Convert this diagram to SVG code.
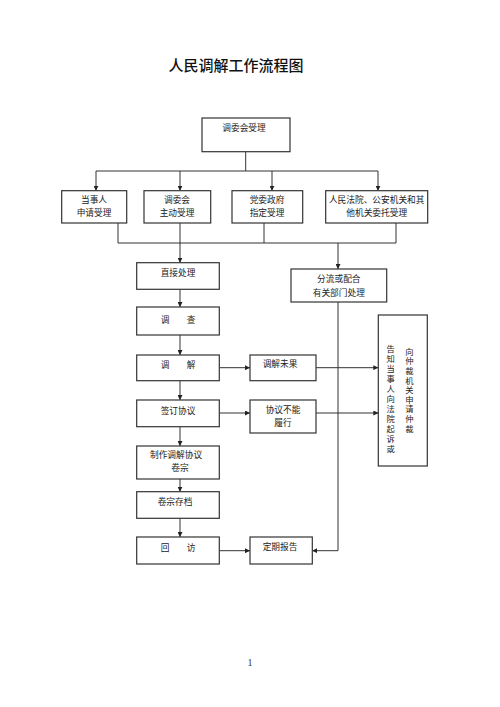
<svg xmlns="http://www.w3.org/2000/svg" width="500" height="707" viewBox="0 0 500 707">
<defs>
<marker id="ah" viewBox="0 0 10 10" refX="10" refY="5" markerWidth="5" markerHeight="5" orient="auto" markerUnits="userSpaceOnUse">
<path d="M0,0 L10,5 L0,10 z" fill="#222"/>
</marker>
<style>
.box{fill:#fff;stroke:#333;stroke-width:1.2}
.t{font-family:"Noto Sans CJK SC","Liberation Sans",sans-serif;font-size:8.7px;fill:#222;text-anchor:middle}
.v{font-family:"Noto Sans CJK SC","Liberation Sans",sans-serif;font-size:8.3px;fill:#222;writing-mode:vertical-rl;text-orientation:upright;text-anchor:start}
.ln{fill:none;stroke:#333;stroke-width:1}
.ar{fill:none;stroke:#333;stroke-width:1;marker-end:url(#ah)}
</style>
</defs>
<rect width="500" height="707" fill="#fff"/>
<text x="236" y="71" style="font-family:'Noto Sans CJK SC','Liberation Sans',sans-serif;font-size:15px;font-weight:500;fill:#111;text-anchor:middle">人民调解工作流程图</text>

<g id="connectors">
<path class="ln" d="M245.7,151.7 V171 M96,171 H378"/>
<path class="ar" d="M96,171 V190.7"/>
<path class="ar" d="M180,171 V190.7"/>
<path class="ar" d="M272,171 V190.7"/>
<path class="ar" d="M378,171 V190.7"/>
<path class="ln" d="M118,223 V243 M180,223 V243 M264,223 V243 M396,223 V243 M118,243 H396"/>
<path class="ar" d="M180,243 V262.7"/>
<path class="ar" d="M338,243 V269"/>
<path class="ar" d="M180,289.3 V307"/>
<path class="ar" d="M180,335 V355"/>
<path class="ar" d="M180,380.7 V400"/>
<path class="ar" d="M180,426.7 V446"/>
<path class="ar" d="M180,479 V491.7"/>
<path class="ar" d="M180,518.3 V537"/>
<path class="ar" d="M219.3,367.7 H250"/>
<path class="ar" d="M316,367.7 H378.3"/>
<path class="ar" d="M219.3,413 H250"/>
<path class="ar" d="M316,413 H378.3"/>
<path class="ar" d="M219.3,550.7 H250"/>
<path class="ar" d="M338,302 V550.7 H312.3"/>
</g>

<g id="n-top"><rect class="box" x="202" y="118" width="88" height="33.7"/><text class="t" x="244" y="131">调委会受理</text></g>
<g id="n-dsr"><rect class="box" x="61.7" y="190.7" width="65" height="32.3"/><text class="t" x="94" y="203">当事人</text><text class="t" x="94" y="216">申请受理</text></g>
<g id="n-twh"><rect class="box" x="144" y="190.7" width="66.7" height="32.3"/><text class="t" x="177" y="203">调委会</text><text class="t" x="177" y="216">主动受理</text></g>
<g id="n-dwzf"><rect class="box" x="232" y="190.7" width="70.7" height="32.3"/><text class="t" x="267" y="203">党委政府</text><text class="t" x="267" y="216">指定受理</text></g>
<g id="n-fy"><rect class="box" x="325.7" y="190.7" width="102" height="32.3"/><text class="t" x="376.7" y="203">人民法院、公安机关和其</text><text class="t" x="376.7" y="216">他机关委托受理</text></g>
<g id="n-zjcl"><rect class="box" x="136.7" y="262.7" width="82.6" height="26.6"/><text class="t" x="178" y="275.5">直接处理</text></g>
<g id="n-fl"><rect class="box" x="291" y="269" width="95.7" height="33"/><text class="t" x="338.8" y="282">分流或配合</text><text class="t" x="338.8" y="295.5">有关部门处理</text></g>
<g id="n-dc"><rect class="box" x="136.7" y="307" width="82.6" height="28"/><text class="t" x="178" y="322.5" xml:space="preserve">调　　查</text></g>
<g id="n-tj"><rect class="box" x="136.7" y="355" width="82.6" height="25.7"/><text class="t" x="178" y="367.5" xml:space="preserve">调　　解</text></g>
<g id="n-tjwg"><rect class="box" x="250" y="355" width="66" height="25.7"/><text class="t" x="280" y="367">调解未果</text></g>
<g id="n-qd"><rect class="box" x="136.7" y="400" width="82.6" height="26.7"/><text class="t" x="178" y="413.5">签订协议</text></g>
<g id="n-bnlx"><rect class="box" x="250" y="400" width="66" height="33"/><text class="t" x="283" y="413">协议不能</text><text class="t" x="283" y="426">履行</text></g>
<g id="n-zz"><rect class="box" x="136.7" y="446" width="82.6" height="33"/><text class="t" x="176" y="458">制作调解协议</text><text class="t" x="180" y="471">卷宗</text></g>
<g id="n-jz"><rect class="box" x="136.7" y="491.7" width="82.6" height="26.6"/><text class="t" x="175" y="504.5">卷宗存档</text></g>
<g id="n-hf"><rect class="box" x="136.7" y="537" width="82.6" height="27"/><text class="t" x="178" y="551" xml:space="preserve">回　　访</text></g>
<g id="n-dq"><rect class="box" x="250" y="537" width="62.3" height="27"/><text class="t" x="280" y="550">定期报告</text></g>
<g id="n-right"><rect class="box" x="378.3" y="315" width="49" height="151"/>
<text class="v" x="409.3" y="347.5" style="letter-spacing:1.3px">向仲裁机关申请仲裁</text>
<text class="v" x="390.7" y="345" style="letter-spacing:1.7px">告知当事人向法院起诉或</text>
</g>
<text x="250" y="666" style="font-family:'Liberation Serif',serif;font-size:10px;fill:#333;text-anchor:middle">1</text>
</svg>
